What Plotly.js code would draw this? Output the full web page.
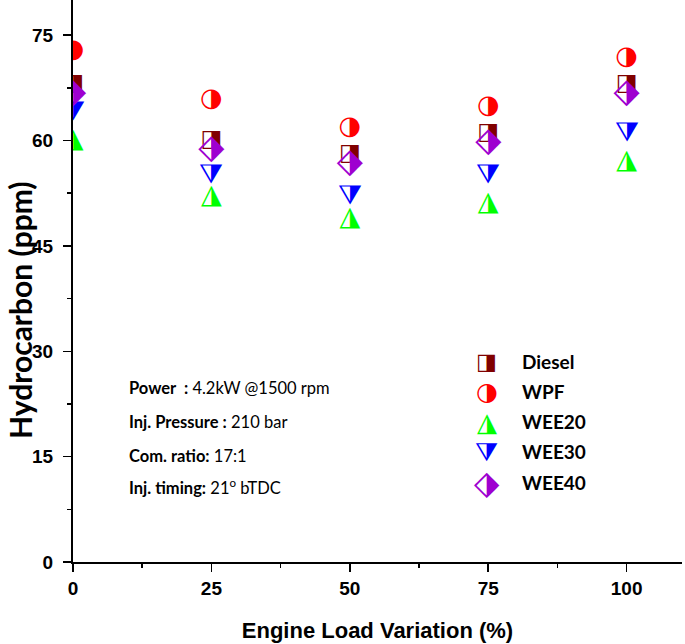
<!DOCTYPE html>
<html>
<head>
<meta charset="utf-8">
<script src="https://cdn.plot.ly/plotly-3.0.1.min.js"></script>
<style>body{margin:0;background:#fff}#chart{width:685px;height:644px}</style>
</head>
<body>
<div id="chart"></div>
<script>
// ---- data ----
const loads = [0, 25, 50, 75, 100];
const diesel = [68, 60, 58, 61, 68];
const wpf = [73, 66, 62, 65, 72];
const wee20 = [60, 52, 49, 51, 57];
const wee30 = [65, 56, 53, 56, 62];
const wee40 = [67, 59, 57, 60, 67];
const seriesNames = ["Diesel", "WPF", "WEE20", "WEE30", "WEE40"];
const xTicks = [0, 25, 50, 75, 100];
const yTicks = [0, 15, 30, 45, 60, 75];

const seriesValues = [diesel, wpf, wee20, wee30, wee40];
const colors = ["#800000", "#ff0000", "#00ff00", "#0000ff", "#9e00d0"];
const glyphs = ["\u25E8", "\u25D1", "\u25EE", "\u29E9", "\u2B17"];
const gsizes = [23, 26, 27, 27, 34];
// base text size only sets the glyph's vertical anchoring (baseline = 0.25 * base)
const baseSizes = [23, 30, 27, 59, 42];
const glyphFont = "DejaVu Sans";
const calibriLike = "Lato, Open Sans, sans-serif";

const traces = seriesNames.map((name, i) => ({
  type: "scatter",
  mode: "text",
  name: name,
  x: loads,
  y: seriesValues[i],
  text: loads.map(() => "<span style=\"font-size:" + gsizes[i] + "px\">" + glyphs[i] + "</span>"),
  textposition: "middle center",
  textfont: {family: glyphFont, size: baseSizes[i], color: colors[i]},
  cliponaxis: true,
  showlegend: false,
  hoverinfo: "x+y+name"
}));

const annotations = [];
// legend (paper coords)
const legY0 = (562 - 361) / 562, legStep = 30.3 / 562;
seriesNames.forEach((name, i) => {
  const yy = legY0 - i * legStep;
  annotations.push({xref: "paper", yref: "paper", x: (487 - 73) / 609, y: yy,
    text: glyphs[i], showarrow: false, xanchor: "center", yanchor: "middle",
    font: {family: glyphFont, size: gsizes[i] - 1, color: colors[i]}});
  annotations.push({xref: "paper", yref: "paper", x: (520 - 73) / 609, y: yy,
    text: "<b>" + name + "</b>", showarrow: false, xanchor: "left", yanchor: "middle",
    font: {family: calibriLike, size: 19, color: "#000"}});
});
// conditions text
const condLines = [
  "<b>Power\u00a0\u00a0:</b> 4.2kW @1500 rpm",
  "<b>Inj. Pressure :</b> 210 bar",
  "<b>Com. ratio:</b> 17:1",
  "<b>Inj. timing:</b> 21<sup>o</sup> bTDC"
];
const condY = [388, 422, 456, 487];
condLines.forEach((t, i) => {
  annotations.push({xref: "paper", yref: "paper", x: (127 - 73) / 609, y: (562 - condY[i]) / 562,
    text: t, showarrow: false, xanchor: "left", yanchor: "middle",
    font: {family: calibriLike, size: 16.5, color: "#000"}});
});
// y title
annotations.push({xref: "paper", yref: "paper", x: (20 - 73) / 609, y: (562 - 310) / 562,
  text: "<b>Hydrocarbon (ppm)</b>", textangle: -90, showarrow: false,
  xanchor: "center", yanchor: "middle",
  font: {family: calibriLike, size: 30, color: "#000"}});

const axisFont = {family: "Liberation Sans, Arial, sans-serif", size: 19, color: "#000", weight: "bold"};

const layout = {
  width: 685, height: 644,
  margin: {l: 73, r: 3, t: 0, b: 82},
  paper_bgcolor: "#fff", plot_bgcolor: "#fff",
  showlegend: false,
  xaxis: {
    range: [0, 110], tickvals: xTicks, ticktext: xTicks.map(String),
    showgrid: false, zeroline: false, showline: true, linecolor: "#000", linewidth: 2,
    ticks: "outside", ticklen: 8, tickwidth: 1.5, tickcolor: "#000",
    minor: {dtick: 12.5, tick0: 0, ticks: "outside", ticklen: 4, tickwidth: 1.5, tickcolor: "#000", showgrid: false},
    tickfont: axisFont,
    title: {text: "<b>Engine Load Variation (%)</b>", font: {family: "Liberation Sans, Arial, sans-serif", size: 22, color: "#000"}, standoff: 25}
  },
  yaxis: {
    range: [0, 80], tickvals: yTicks, ticktext: yTicks.map(String),
    showgrid: false, zeroline: false, showline: true, linecolor: "#000", linewidth: 2,
    ticks: "outside", ticklen: 8, tickwidth: 1.5, tickcolor: "#000",
    minor: {dtick: 7.5, tick0: 0, ticks: "outside", ticklen: 4, tickwidth: 1.5, tickcolor: "#000", showgrid: false},
    tickfont: axisFont, ticklabelstandoff: 6
  },
  annotations: annotations
};

Plotly.newPlot("chart", traces, layout, {staticPlot: true});
</script>
</body>
</html>
